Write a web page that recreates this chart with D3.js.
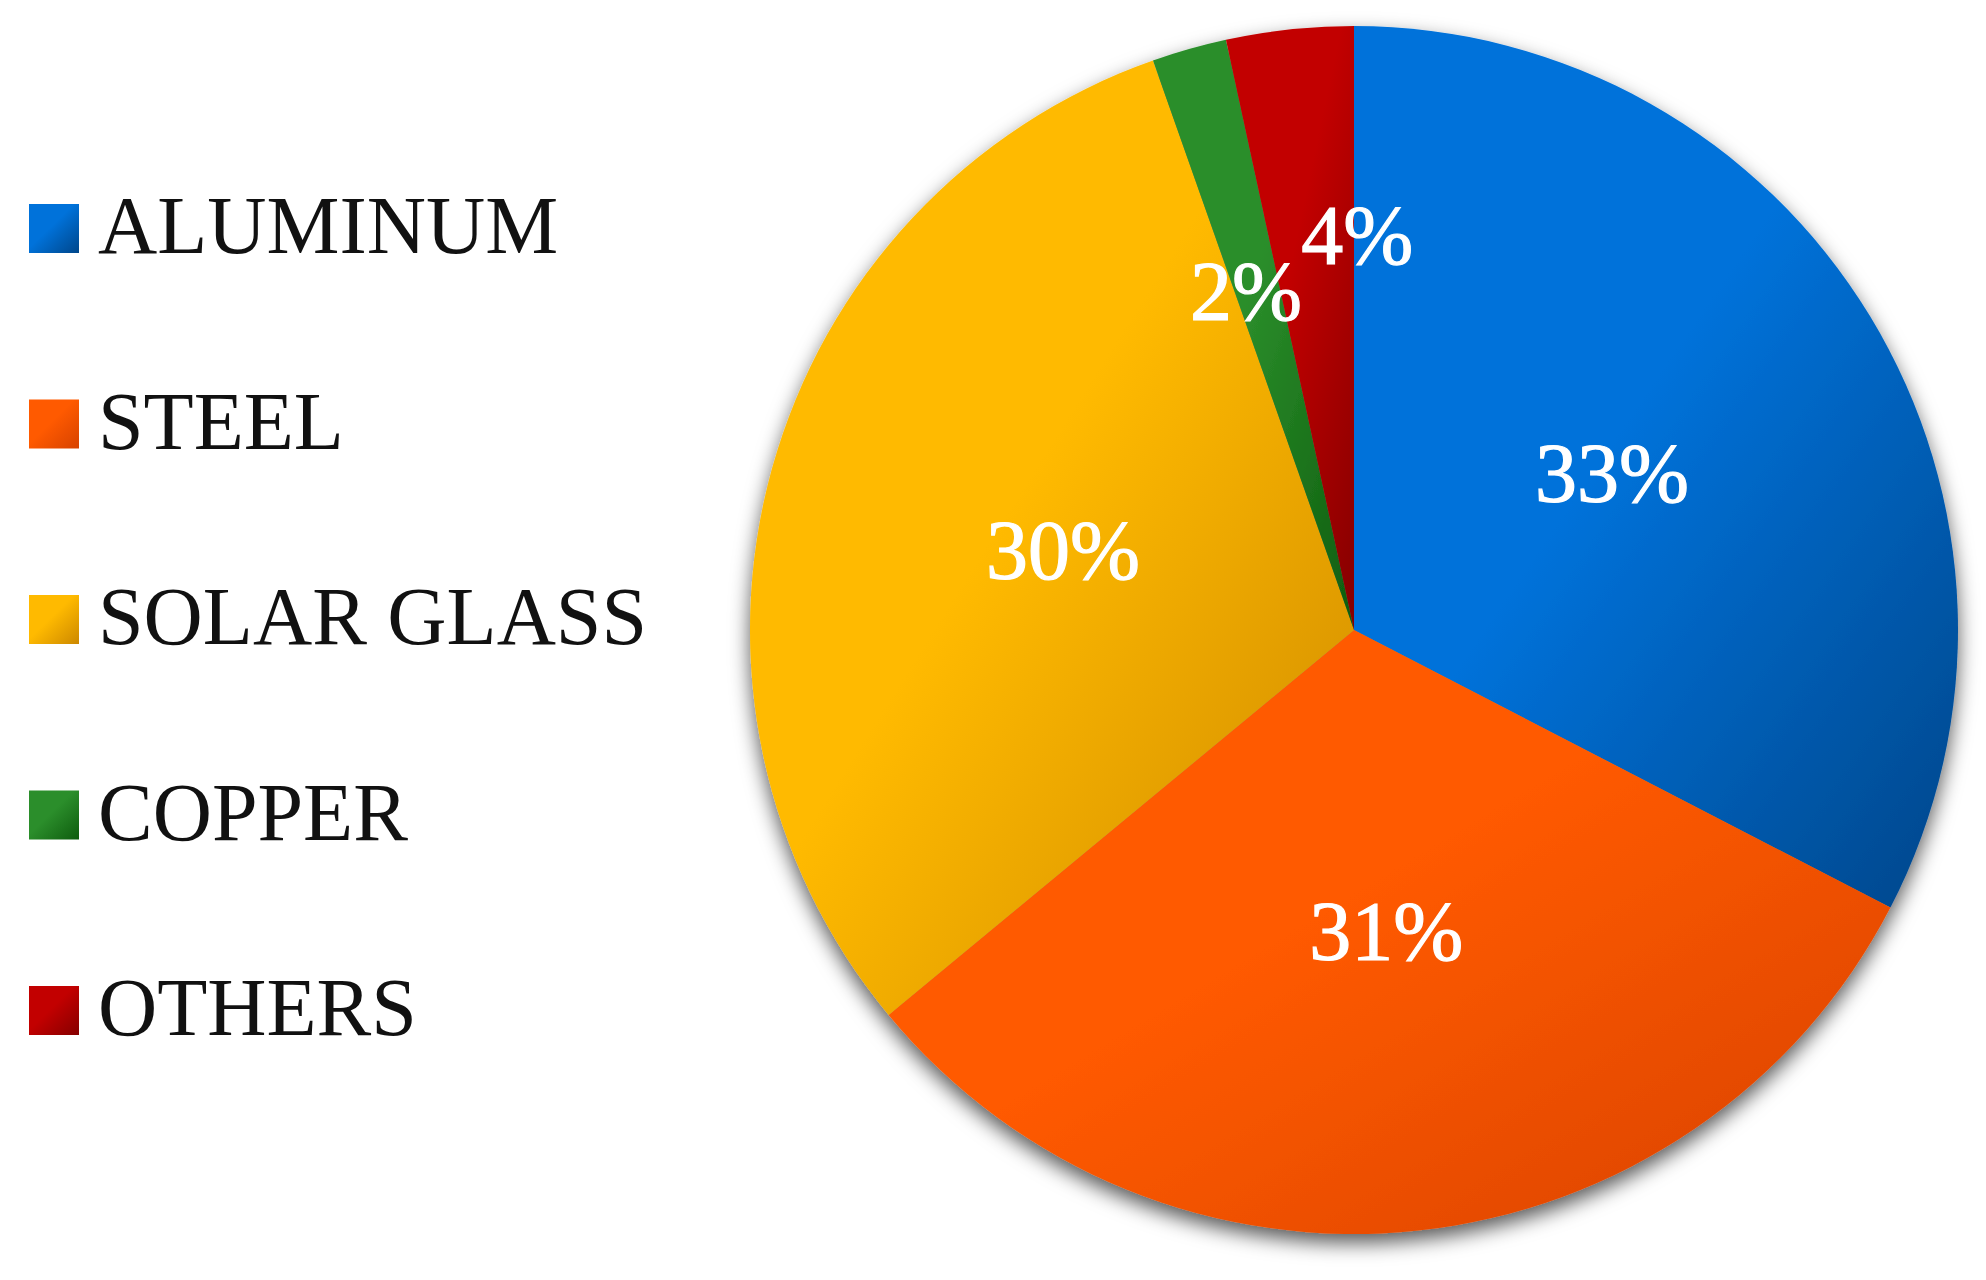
<!DOCTYPE html>
<html>
<head>
<meta charset="utf-8">
<script src="https://cdn.jsdelivr.net/npm/d3@7"></script>
<style>
  html, body { margin: 0; padding: 0; background: #fff; }
  svg { display: block; }
  .legend text { font-family: "Liberation Serif", "DejaVu Serif", serif; font-size: 82px; fill: #111; }
  .label { font-family: "Liberation Serif", "DejaVu Serif", serif; font-size: 84px; fill: #fff; stroke: #fff; stroke-width: 1.2px; text-anchor: middle; }
</style>
</head>
<body>
<svg width="1986" height="1280"></svg>
<script>
// materials share (%), slice sizes
var categories = ['ALUMINUM', 'STEEL', 'SOLAR GLASS', 'COPPER', 'OTHERS'];
var values = [32.6, 31.4, 30.6, 2.0, 3.4];
var labels = ['33%', '31%', '30%', '2%', '4%'];

var lightColors = ['#0072da', '#ff5a00', '#ffba00', '#2b8e2b', '#c20000'];
var darkColors  = ['#00468a', '#d74200', '#cc8800', '#0e5c0e', '#850000'];

var svg = d3.select('svg'),
    width = +svg.attr('width'),
    height = +svg.attr('height');

var cx = 1354, cy = 630, radius = 604;

var defs = svg.append('defs');

var shadow = defs.append('filter')
    .attr('id', 'shadow')
    .attr('x', '-10%').attr('y', '-10%')
    .attr('width', '120%').attr('height', '125%');
shadow.append('feDropShadow')
    .attr('dx', 0).attr('dy', 9)
    .attr('stdDeviation', 10)
    .attr('flood-color', '#000')
    .attr('flood-opacity', 0.65);

categories.forEach(function(c, i){
    var g = defs.append('linearGradient')
        .attr('id', 'grad' + i)
        .attr('x1', 0).attr('y1', 0)
        .attr('x2', 1).attr('y2', 1);
    g.append('stop').attr('offset', '0%').attr('stop-color', lightColors[i]);
    g.append('stop').attr('offset', '45%').attr('stop-color', lightColors[i]);
    g.append('stop').attr('offset', '100%').attr('stop-color', darkColors[i]);
});

var pie = d3.pie().sort(null).value(function(d){ return d; });
var arcs = pie(values);

var arc = d3.arc().innerRadius(0).outerRadius(radius);

var chart = svg.append('g')
    .attr('transform', 'translate(' + cx + ',' + cy + ')');

var slices = chart.append('g').attr('filter', 'url(#shadow)');

slices.selectAll('path')
    .data(arcs)
    .enter().append('path')
    .attr('d', arc)
    .attr('fill', function(d, i){ return 'url(#grad' + i + ')'; });

// label placement: radius ratio and angular nudge (small slices sit further out)
var labelRadius = [0.5, 0.5, 0.5, 0.59, 0.655];
var labelNudge = [0, 0, 0, -1.8, 6.6];

function labelPos(d, i){
    var a = (d.startAngle + d.endAngle) / 2 + labelNudge[i] * Math.PI / 180;
    return [Math.sin(a) * radius * labelRadius[i], -Math.cos(a) * radius * labelRadius[i]];
}

chart.selectAll('text.label')
    .data(arcs)
    .enter().append('text')
    .attr('class', 'label')
    .attr('x', function(d, i){ return labelPos(d, i)[0]; })
    .attr('y', function(d, i){ return labelPos(d, i)[1]; })
    .attr('dy', '0.35em')
    .text(function(d, i){ return labels[i]; });

// legend
var y = d3.scalePoint()
    .domain(categories)
    .range([253, 1035]);

var legend = svg.append('g').attr('class', 'legend');

var item = legend.selectAll('g')
    .data(categories)
    .enter().append('g')
    .attr('transform', function(d){ return 'translate(0,' + y(d) + ')'; });

item.append('rect')
    .attr('x', 29)
    .attr('y', -49)
    .attr('width', 50)
    .attr('height', 49)
    .attr('fill', function(d, i){ return 'url(#grad' + i + ')'; });

item.append('text')
    .attr('x', 98)
    .attr('y', 0)
    .text(function(d){ return d; });
</script>
</body>
</html>
